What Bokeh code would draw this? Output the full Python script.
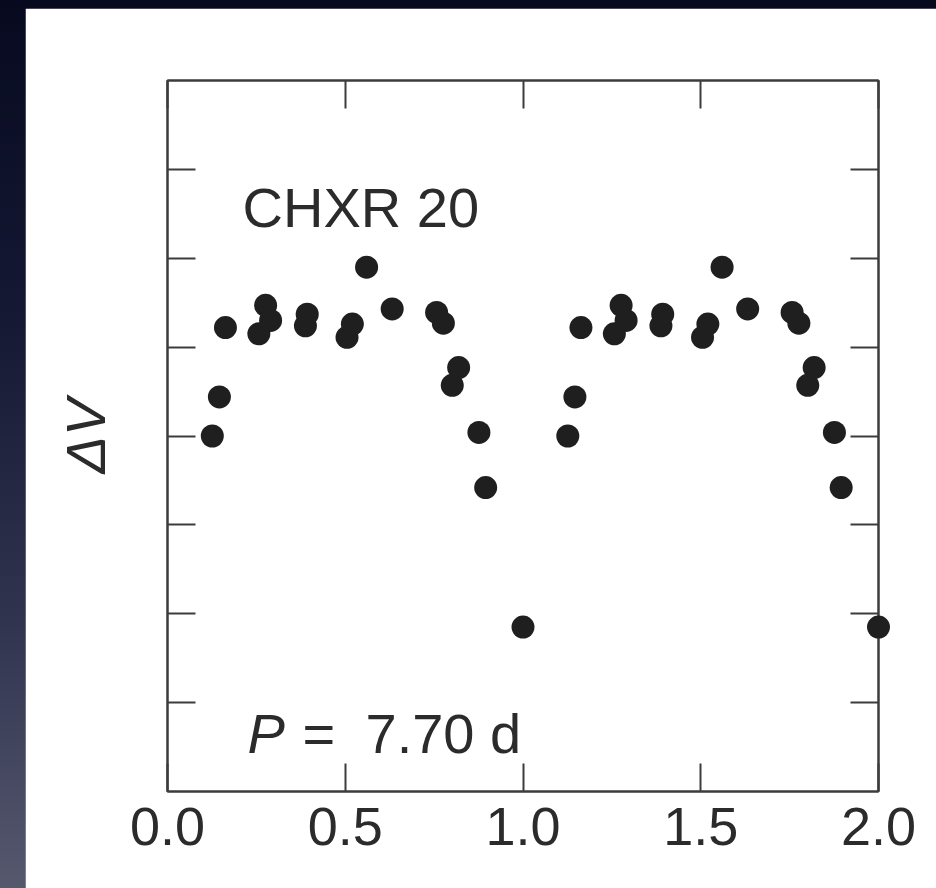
from bokeh.embed import file_html
from bokeh.models import (ColumnDataSource, CustomJSTickFormatter, FixedTicker,
                          GlobalInlineStyleSheet, Label, LinearAxis, NumeralTickFormatter,
                          Range1d)
from bokeh.plotting import figure
from bokeh.resources import INLINE

# Phase-folded V-band light curve of CHXR 20 (one cycle, repeated once)
phase = [0.126, 0.146, 0.163, 0.257, 0.276, 0.290, 0.388, 0.393, 0.505, 0.520,
         0.560, 0.632, 0.757, 0.776, 0.801, 0.819, 0.876, 0.895, 1.000]
delta_v = [0.000, -0.044, -0.122, -0.115, -0.147, -0.130, -0.124, -0.137, -0.111, -0.126,
           -0.190, -0.143, -0.139, -0.127, -0.057, -0.077, -0.004, 0.058, 0.215]

x_ticks = [0.0, 0.5, 1.0, 1.5, 2.0]
y_ticks = [-0.3, -0.2, -0.1, 0.0, 0.1, 0.2, 0.3]

star_name = "CHXR 20"
period_value = "7.70 d"
y_title = "ΔV"

INK = "#2b2b2b"
FRAME = "#3c3c3c"
FONT = "Liberation Sans"

# two cycles side by side
src = ColumnDataSource(dict(
    x=phase + [p + 1.0 for p in phase],
    y=delta_v + delta_v,
))

page_css = GlobalInlineStyleSheet(css="""
html, body {
  margin: 0; padding: 0; height: 888px; overflow: hidden;
  background: linear-gradient(180deg, #070a1f 0%, #141833 35%, #30344f 70%, #56586e 100%);
}
""")

p = figure(
    width=911, height=880,
    x_range=Range1d(0.0, 2.0),
    y_range=Range1d(0.4, -0.4),   # magnitudes: brighter is up
    output_backend="svg", toolbar_location=None,
    min_border_left=142, min_border_right=58, min_border_top=72, min_border_bottom=97,
    background_fill_color="white", border_fill_color="white",
    outline_line_color=FRAME, outline_line_width=2,
)
p.margin = (8, 0, 0, 25)
p.stylesheets = [page_css]
p.grid.visible = False

blank = CustomJSTickFormatter(code="return ''")

# bottom axis with phase labels
xa = p.xaxis[0]
xa.ticker = FixedTicker(ticks=x_ticks)
xa.formatter = NumeralTickFormatter(format="0.0")
xa.major_tick_in = 28
xa.major_tick_out = 0
xa.minor_tick_line_color = None
xa.axis_line_color = FRAME
xa.axis_line_width = 2
xa.major_tick_line_color = FRAME
xa.major_tick_line_width = 2
xa.major_label_text_font = FONT
xa.major_label_text_font_size = "54px"
xa.major_label_text_color = INK
xa.major_label_standoff = 16

# left axis: ticks and the ΔV title
ya = p.yaxis[0]
ya.ticker = FixedTicker(ticks=y_ticks)
ya.formatter = blank
ya.major_tick_in = 28
ya.major_tick_out = 0
ya.major_label_standoff = 0
ya.minor_tick_line_color = None
ya.axis_line_color = FRAME
ya.axis_line_width = 2
ya.major_tick_line_color = FRAME
ya.major_tick_line_width = 2
ya.axis_label = y_title
ya.axis_label_text_font = FONT
ya.axis_label_text_font_style = "italic"
ya.axis_label_text_font_size = "56px"
ya.axis_label_text_color = INK
ya.axis_label_standoff = 51

# mirrored ticks on top and right
top = LinearAxis(ticker=FixedTicker(ticks=x_ticks), formatter=blank,
                 major_tick_in=28, major_tick_out=0, minor_tick_line_color=None,
                 axis_line_color=FRAME, axis_line_width=2,
                 major_tick_line_color=FRAME, major_tick_line_width=2)
right = LinearAxis(ticker=FixedTicker(ticks=y_ticks), formatter=blank,
                   major_tick_in=28, major_tick_out=0, minor_tick_line_color=None,
                   axis_line_color=FRAME, axis_line_width=2,
                   major_tick_line_color=FRAME, major_tick_line_width=2)
p.add_layout(top, "above")
p.add_layout(right, "right")

# points drawn above the frame so the ones on the edge are not cut
p.scatter("x", "y", source=src, size=23, fill_color="#1f1f1f", line_color=None,
          level="overlay")

# annotations inside the panel
p.add_layout(Label(x=0.211, y=-0.257, text=star_name, text_font=FONT,
                   text_font_size="56px", text_color=INK, text_baseline="alphabetic"))
p.add_layout(Label(x=0.225, y=0.335, text="P", text_font=FONT, text_font_style="italic",
                   text_font_size="56px", text_color=INK, text_baseline="alphabetic"))
p.add_layout(Label(x=0.380, y=0.335, text="=", text_font=FONT,
                   text_font_size="56px", text_color=INK, text_baseline="alphabetic"))
p.add_layout(Label(x=0.557, y=0.335, text=period_value, text_font=FONT,
                   text_font_size="56px", text_color=INK, text_baseline="alphabetic"))

open("out.html", "w").write(file_html(p, INLINE))
